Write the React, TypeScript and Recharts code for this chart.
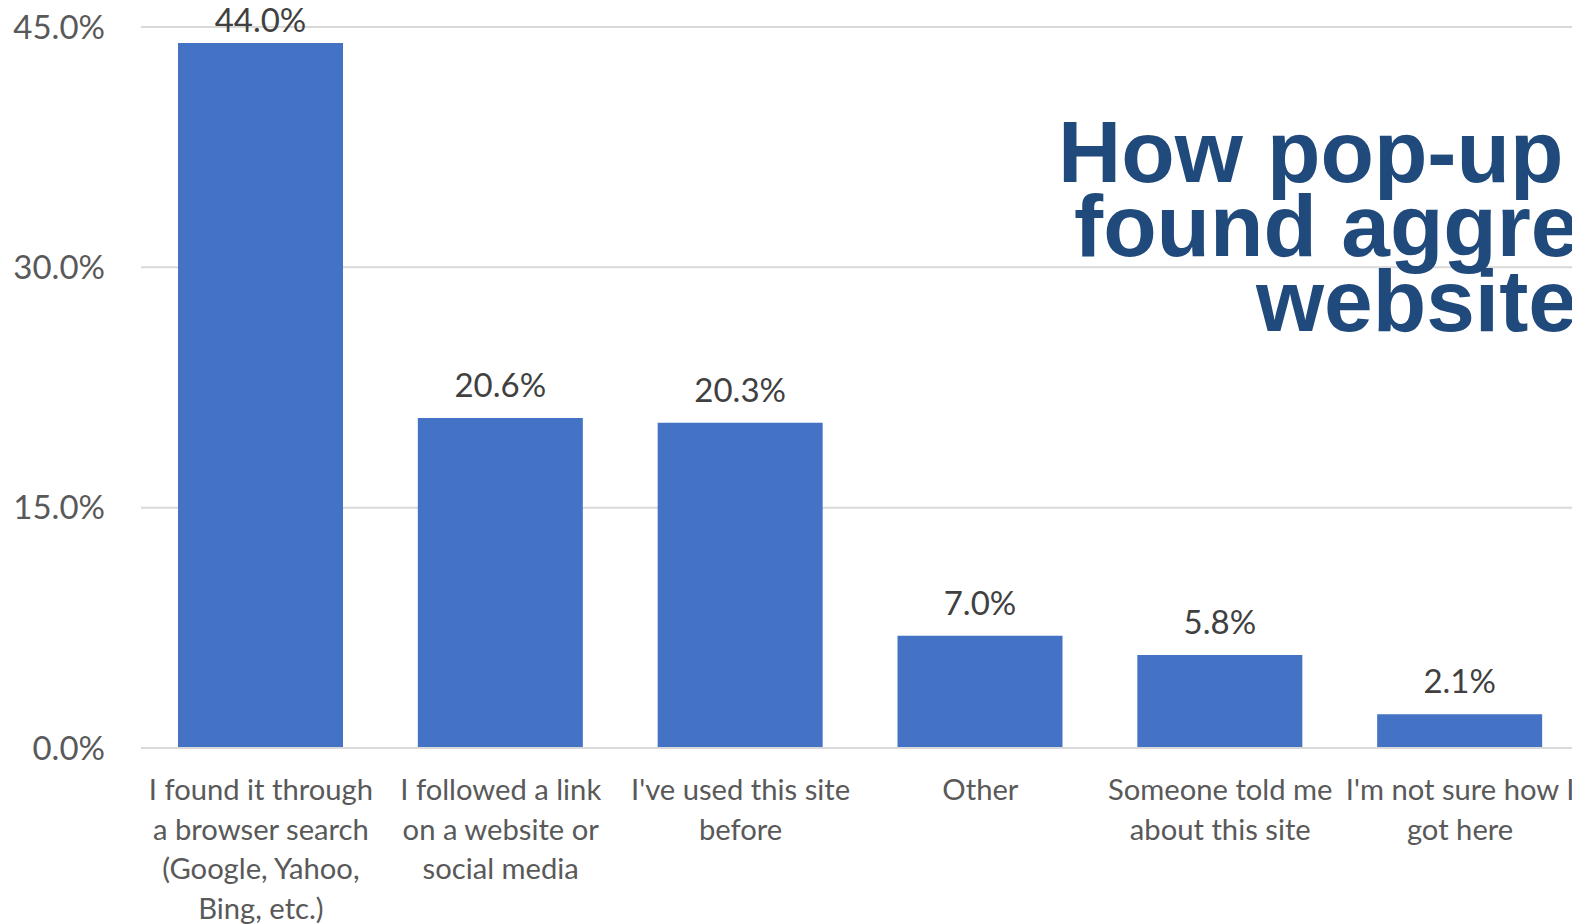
import { BarChart, Bar, XAxis, YAxis, CartesianGrid, LabelList } from 'recharts';

const categories = [
  'I found it through\na browser search\n(Google, Yahoo,\nBing, etc.)',
  'I followed a link\non a website or\nsocial media',
  "I've used this site\nbefore",
  'Other',
  'Someone told me\nabout this site',
  "I'm not sure how I\ngot here",
];
const shares = [44.0, 20.6, 20.3, 7.0, 5.8, 2.1];
const yTicks = [0, 15, 30, 45];
const titleLines = ['How pop-up users', 'found aggregator', 'websites'];

const data = categories.map((c, i) => ({ name: c, value: shares[i] }));

const FONT = 'Lato, "Open Sans", sans-serif';
const TEXT = '#595959';

function CategoryTick({ x, y, payload }: any) {
  const lines = String(payload.value).split('\n');
  return (
    <text x={x} y={y} textAnchor="middle" fill={TEXT} fontFamily={FONT} fontSize={29.2}>
      {lines.map((l, i) => (
        <tspan key={i} x={x} dy={i === 0 ? 44 : 39.5}>
          {l}
        </tspan>
      ))}
    </text>
  );
}

// value above the bar, kept inside the plot when the bar nearly fills it
function ValueLabel({ x, y, width, value }: any) {
  return (
    <text
      x={x + width / 2}
      y={Math.max(y - 21, 32)}
      textAnchor="middle"
      fill="#404040"
      fontFamily={FONT}
      fontSize={33}
    >
      {`${Number(value).toFixed(1)}%`}
    </text>
  );
}

export default function App() {
  return (
    <div
      style={{
        position: 'relative',
        margin: -8,
        width: 1594,
        height: 932,
        background: '#fff',
        overflow: 'hidden',
      }}
    >
      <BarChart
        width={1580}
        height={932}
        data={data}
        margin={{ top: 27, right: 0, bottom: 0, left: 0 }}
      >
        <CartesianGrid vertical={false} stroke="#D9D9D9" strokeWidth={2} />
        <XAxis
          dataKey="name"
          interval={0}
          height={184}
          tickLine={false}
          axisLine={{ stroke: '#D9D9D9', strokeWidth: 2 }}
          tick={<CategoryTick />}
        />
        <YAxis
          width={141}
          domain={[0, 45]}
          ticks={yTicks}
          axisLine={false}
          tickLine={false}
          tickSize={0}
          tickMargin={36}
          tickFormatter={(v: number) => `${v.toFixed(1)}%`}
          tick={{ fill: TEXT, fontFamily: FONT, fontSize: 33 }}
        />
        <Bar dataKey="value" fill="#4472C4" barSize={165} isAnimationActive={false}>
          <LabelList dataKey="value" content={<ValueLabel />} />
        </Bar>
      </BarChart>
      <svg
        width={1581}
        height={932}
        style={{ position: 'absolute', left: 0, top: 0, pointerEvents: 'none' }}
      >
        {titleLines.map((t, i) => (
          <text
            key={i}
            x={[1058, 1074, 1256][i]}
            y={[182, 256, 331][i]}
            fill="#214A7C"
            fontFamily='"Liberation Sans", Arial, sans-serif'
            fontWeight="bold"
            fontSize={87.5}
          >
            {t}
          </text>
        ))}
      </svg>
    </div>
  );
}
